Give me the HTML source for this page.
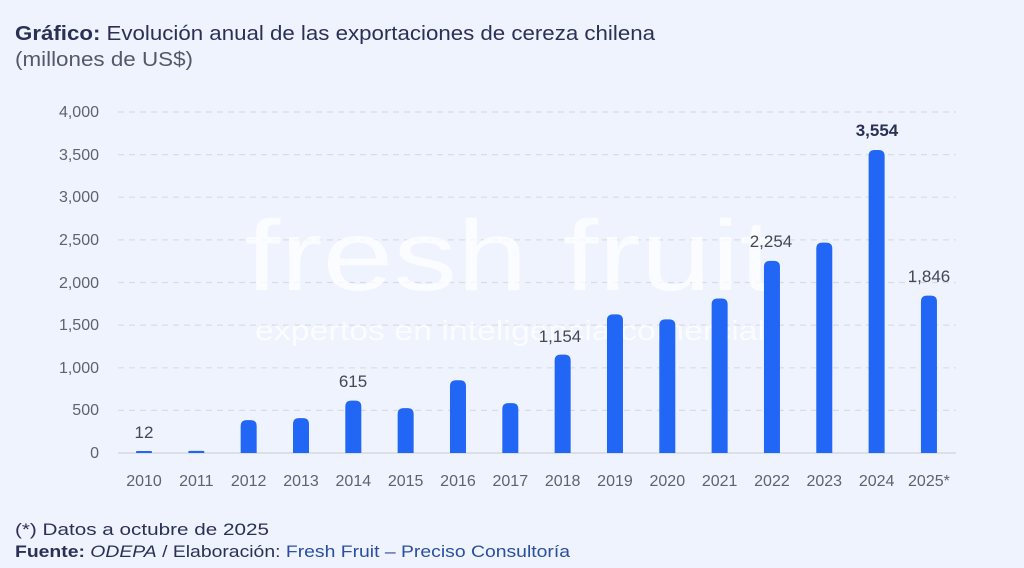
<!DOCTYPE html>
<html><head><meta charset="utf-8"><style>
html,body{margin:0;padding:0;background:#eef3fd;}
svg{display:block;font-family:"Liberation Sans",sans-serif;}
</style></head><body>
<svg width="1024" height="568" viewBox="0 0 1024 568" xmlns="http://www.w3.org/2000/svg">
<rect width="1024" height="568" fill="#eef3fd"/>
<text x="15" y="40" font-size="20" fill="#2b3155" textLength="640" lengthAdjust="spacingAndGlyphs"><tspan font-weight="bold">Gráfico:</tspan> Evolución anual de las exportaciones de cereza chilena</text>
<text x="15" y="66" font-size="20" fill="#55586a" textLength="178" lengthAdjust="spacingAndGlyphs">(millones de US$)</text>
<g stroke="#d9dce3" stroke-width="1.2" stroke-dasharray="6,5">
<line x1="118" x2="956" y1="112" y2="112"/><line x1="118" x2="956" y1="154.6" y2="154.6"/>
<line x1="118" x2="956" y1="197.2" y2="197.2"/><line x1="118" x2="956" y1="239.9" y2="239.9"/>
<line x1="118" x2="956" y1="282.5" y2="282.5"/><line x1="118" x2="956" y1="325.1" y2="325.1"/>
<line x1="118" x2="956" y1="367.8" y2="367.8"/><line x1="118" x2="956" y1="410.4" y2="410.4"/>
</g>
<line x1="118" x2="956" y1="453" y2="453" stroke="#cfd3db" stroke-width="1.2"/>
<g font-size="16" fill="#5f6270" text-anchor="end">
<text x="99" y="117">4,000</text><text x="99" y="160">3,500</text><text x="99" y="202">3,000</text>
<text x="99" y="245">2,500</text><text x="99" y="288">2,000</text><text x="99" y="330">1,500</text>
<text x="99" y="373">1,000</text><text x="99" y="415">500</text><text x="99" y="458">0</text>
</g>
<text x="510" y="290" font-size="100" fill="#ffffff" fill-opacity="0.75" text-anchor="middle" textLength="530" lengthAdjust="spacingAndGlyphs">fresh fruit</text>
<text x="510" y="340" font-size="28" fill="#ffffff" fill-opacity="0.75" text-anchor="middle" textLength="510" lengthAdjust="spacingAndGlyphs">expertos en inteligencia comercial</text>
<g fill="#2266f5" id="bars"></g>
<g font-size="16" fill="#5f6270" text-anchor="middle" id="xl"></g>
<g font-size="17" fill="#444757" text-anchor="middle">
<text x="144" y="438">12</text><text x="353" y="387">615</text><text x="560" y="342">1,154</text>
<text x="771" y="247">2,254</text><text x="929" y="282">1,846</text>
<text x="877" y="136" font-weight="bold" fill="#2b3155">3,554</text>
</g>
<text x="15" y="535" font-size="17" fill="#2b3155" textLength="254" lengthAdjust="spacingAndGlyphs">(*) Datos a octubre de 2025</text>
<text x="15" y="557" font-size="17" fill="#2b3155" textLength="555" lengthAdjust="spacingAndGlyphs"><tspan font-weight="bold">Fuente:</tspan> <tspan font-style="italic">ODEPA</tspan> / Elaboración: <tspan fill="#2a4fa0">Fresh Fruit – Preciso Consultoría</tspan></text>
<script>
var v=[12,25,386,409,615,526,854,585,1154,1626,1567,1813,2254,2468,3554,1846];
var b=document.getElementById('bars'),x=document.getElementById('xl'),ns="http://www.w3.org/2000/svg";
for(var i=0;i<16;i++){var cx=144+i*52.33,h=Math.max(v[i]*0.08525,2),y=453-h,r=Math.min(6,h/2);
var p=document.createElementNS(ns,'path');
p.setAttribute('d','M'+(cx-8)+' 453 V'+(y+r)+' Q'+(cx-8)+' '+y+' '+(cx-8+r)+' '+y+' H'+(cx+8-r)+' Q'+(cx+8)+' '+y+' '+(cx+8)+' '+(y+r)+' V453 Z');
b.appendChild(p);
var t=document.createElementNS(ns,'text');t.setAttribute('x',cx);t.setAttribute('y',486);
t.textContent=(2010+i)+(i==15?'*':'');x.appendChild(t);}
</script>
</svg>
</body></html>
